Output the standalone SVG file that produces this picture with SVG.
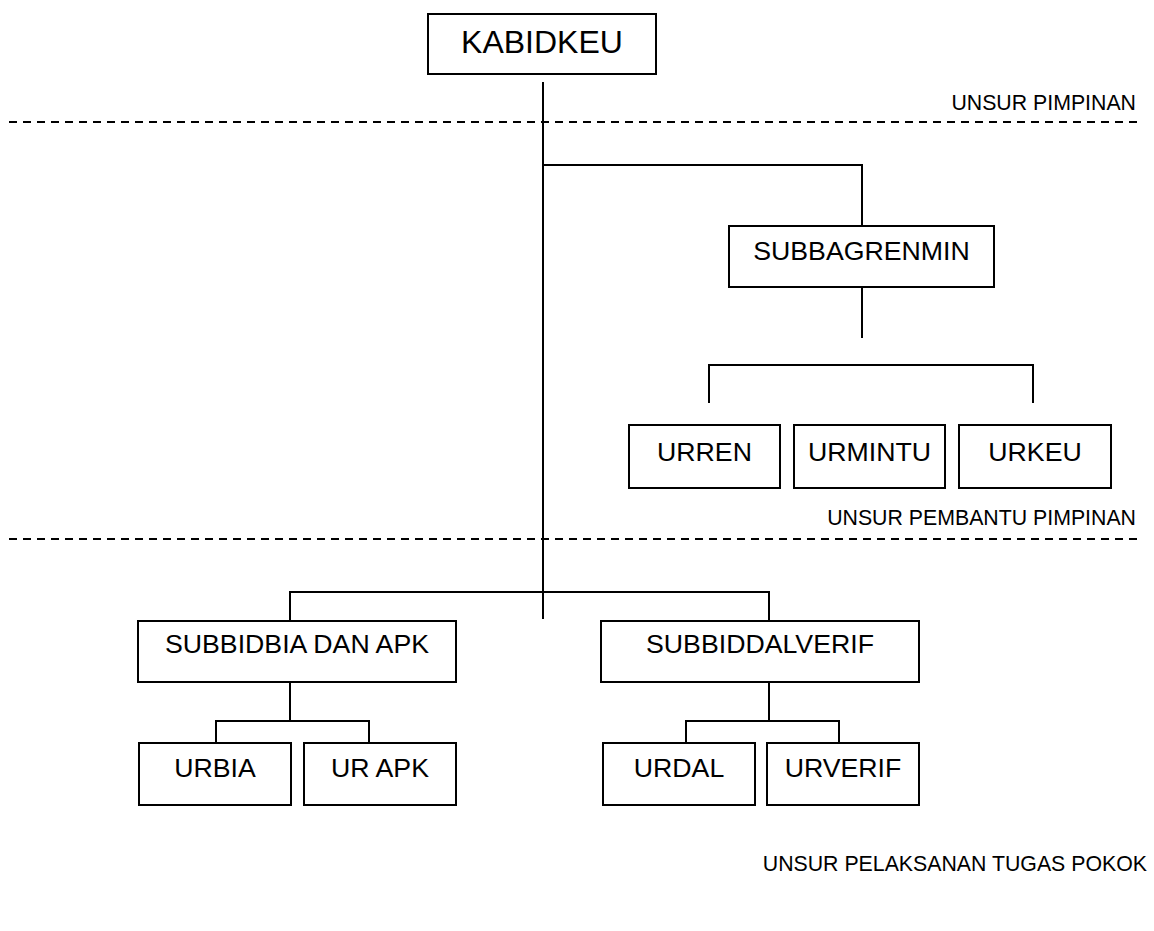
<svg xmlns="http://www.w3.org/2000/svg" width="1154" height="931" viewBox="0 0 1154 931">
<style>
.box{fill:#fff;stroke:#000;stroke-width:2}
.t{font-family:"Liberation Sans",Arial,sans-serif;font-size:26.7px;fill:#000;text-anchor:middle}
.big{font-size:32px}
.lbl{font-family:"Liberation Sans",Arial,sans-serif;font-size:21.3px;fill:#000;text-anchor:end}
.ln{fill:none;stroke:#000;stroke-width:2}
.dash{fill:none;stroke:#000;stroke-width:2;stroke-dasharray:8 6}
</style>
<rect width="1154" height="931" fill="#fff"/>
<g id="connectors">
<path class="ln" d="M543 82 V619"/>
<path class="ln" d="M543 165 H862 V226"/>
<path class="ln" d="M862 287 V338"/>
<path class="ln" d="M709 403 V365 H1033 V403"/>
<path class="ln" d="M290 621 V592 H769 V621"/>
<path class="ln" d="M290 682 V721"/>
<path class="ln" d="M216 743 V721 H369 V743"/>
<path class="ln" d="M769 682 V721"/>
<path class="ln" d="M686 743 V721 H839 V743"/>
</g>
<g id="separators">
<path class="dash" d="M9 122 H1140"/>
<path class="dash" d="M9 539 H1140"/>
<text class="lbl" x="1136" y="110">UNSUR PIMPINAN</text>
<text class="lbl" x="1136" y="525">UNSUR PEMBANTU PIMPINAN</text>
<text class="lbl" x="1147" y="871">UNSUR PELAKSANAN TUGAS POKOK</text>
</g>
<g id="kabidkeu"><rect class="box" x="428" y="14" width="228" height="60"/><text class="t big" x="542" y="53">KABIDKEU</text></g>
<g id="subbagrenmin"><rect class="box" x="729" y="226" width="265" height="61"/><text class="t" x="861.5" y="260">SUBBAGRENMIN</text></g>
<g id="urren"><rect class="box" x="629" y="425" width="151" height="63"/><text class="t" x="704.5" y="461">URREN</text></g>
<g id="urmintu"><rect class="box" x="794" y="425" width="151" height="63"/><text class="t" x="869.5" y="461">URMINTU</text></g>
<g id="urkeu"><rect class="box" x="959" y="425" width="152" height="63"/><text class="t" x="1035" y="461">URKEU</text></g>
<g id="subbidbia"><rect class="box" x="138" y="621" width="318" height="61"/><text class="t" x="297" y="653">SUBBIDBIA DAN APK</text></g>
<g id="subbiddalverif"><rect class="box" x="601" y="621" width="318" height="61"/><text class="t" x="760" y="653">SUBBIDDALVERIF</text></g>
<g id="urbia"><rect class="box" x="139" y="743" width="152" height="62"/><text class="t" x="215" y="777">URBIA</text></g>
<g id="urapk"><rect class="box" x="304" y="743" width="152" height="62"/><text class="t" x="380" y="777">UR APK</text></g>
<g id="urdal"><rect class="box" x="603" y="743" width="152" height="62"/><text class="t" x="679" y="777">URDAL</text></g>
<g id="urverif"><rect class="box" x="767" y="743" width="152" height="62"/><text class="t" x="843" y="777">URVERIF</text></g>
</svg>
